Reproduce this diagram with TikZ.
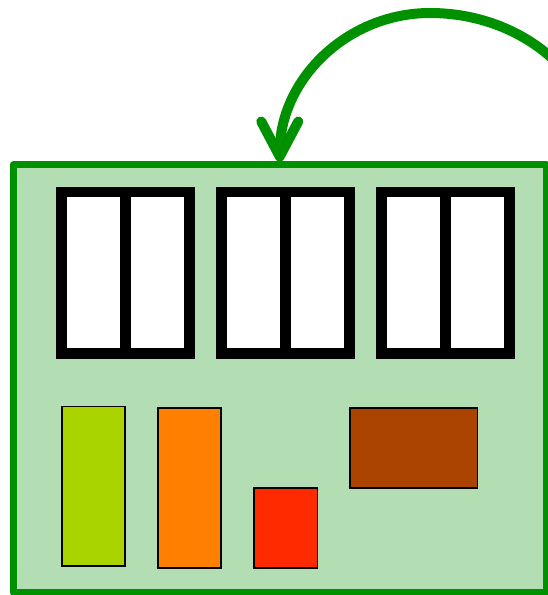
\documentclass[tikz,border=0pt]{standalone}
\usetikzlibrary{arrows.meta}
\definecolor{kortgronn}{RGB}{179,221,179}
\definecolor{kantgronn}{RGB}{0,145,0}
\definecolor{kompgul}{RGB}{170,212,0}
\definecolor{komporansje}{RGB}{255,127,0}
\definecolor{komprod}{RGB}{255,42,0}
\definecolor{kompbrun}{RGB}{170,68,0}
\begin{document}
\begin{tikzpicture}[x=1pt, y=1pt,
    kort/.style={draw=kantgronn, fill=kortgronn, line width=7pt, line join=round, inner sep=0pt},
    spor/.style={draw=black, fill=white, line width=10.7pt, minimum width=64.2pt, minimum height=161.8pt, inner sep=0pt},
    komp/.style={draw=black, line width=1.5pt, inner sep=0pt},
    pil/.style={draw=kantgronn, line width=10pt, -{Straight Barb[length=35pt, width=37pt, round]}}]
    \useasboundingbox (0,0) rectangle (547,595);

    % Kort
    \node[kort, minimum width=533.5pt, minimum height=427.5pt] (board) at (279.75,216.25) {};

    % Minnespor, tre par
    \foreach \p in {0,1,2} {
      \foreach \s in {0,1} {
        \node[spor] (slot-\p-\s) at ({93.4+160*\p+64.2*\s}, 322.1) {};
      }
    }

    % Komponenter
    \node[komp, fill=kompgul, minimum width=63pt, minimum height=159.5pt] (gul) at (93.7,108.6) {};
    \node[komp, fill=komporansje, minimum width=63pt, minimum height=160pt] (oransje) at (189.7,107) {};
    \node[komp, fill=komprod, minimum width=63.4pt, minimum height=80pt] (rod) at (285.8,66.8) {};
    \node[komp, fill=kompbrun, minimum width=127.6pt, minimum height=80pt] (brun) at (413.9,146.8) {};

    % Pil inn mot kortet
    \coordinate (start) at (600,433.5);
    \coordinate (topp) at (430,582);
    \draw[pil] (start) .. controls (600,515.5) and (523.9,582) .. (topp)
      .. controls (347.2,582) and (279.75,515.5) .. (board.north);
  \end{tikzpicture}
\end{document}
